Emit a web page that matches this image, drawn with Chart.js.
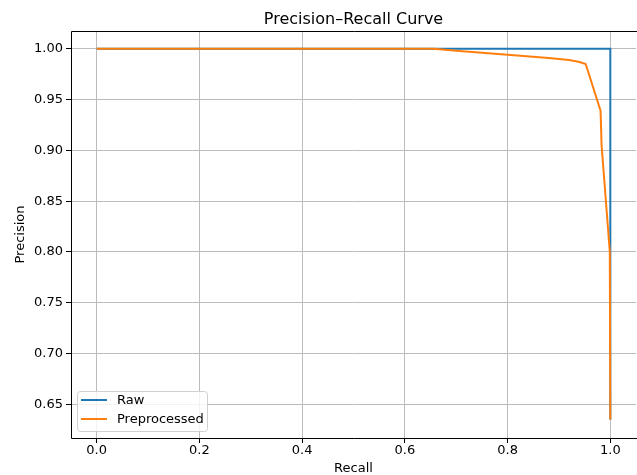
<!DOCTYPE html>
<html>
<head>
<meta charset="utf-8">
<script src="https://cdn.jsdelivr.net/npm/chart.js@4/dist/chart.umd.min.js"></script>
<style>
html,body{margin:0;padding:0;background:#fff;overflow:hidden;}
#wrap{width:637px;height:475px;}
</style>
</head>
<body>
<div id="wrap"><canvas id="c" width="637" height="475"></canvas></div>
<script>
// ---- data ----
const rawRecall = [0.0, 1.0, 1.0];
const rawPrecision = [1.0, 1.0, 0.635];
const prepRecall = [0.0, 0.656, 0.70, 0.80, 0.88, 0.92, 0.94, 0.952, 0.981, 0.983, 0.999, 1.0];
const prepPrecision = [1.0, 1.0, 0.998, 0.994, 0.991, 0.989, 0.987, 0.985, 0.939, 0.905, 0.80, 0.635];
const xTicks = [0.0, 0.2, 0.4, 0.6, 0.8, 1.0];
const yTicks = [0.65, 0.70, 0.75, 0.80, 0.85, 0.90, 0.95, 1.00];
const titleText = 'Precision–Recall Curve';
const xLabel = 'Recall';
const yLabel = 'Precision';
const seriesNames = ['Raw', 'Preprocessed'];
const seriesColors = ['#1f77b4', '#ff7f0e'];

const toPts = (xs, ys) => xs.map((x, i) => ({x: x, y: ys[i]}));
const FONT = '"DejaVu Sans", sans-serif';

const decor = {
  id: 'decor',
  afterDraw(chart) {
    const ctx = chart.ctx, a = chart.chartArea;
    ctx.save();
    // frame (left, top, bottom)
    ctx.strokeStyle = '#000';
    ctx.lineWidth = 1;
    ctx.beginPath();
    ctx.moveTo(a.left + 0.5, a.bottom + 0.5);
    ctx.lineTo(a.left + 0.5, a.top + 0.5);
    ctx.lineTo(a.right + 2, a.top + 0.5);
    ctx.moveTo(a.left + 0.5, a.bottom + 0.5);
    ctx.lineTo(a.right + 2, a.bottom + 0.5);
    ctx.stroke();
    // title
    ctx.fillStyle = '#000';
    ctx.font = '16px ' + FONT;
    ctx.textAlign = 'center';
    ctx.textBaseline = 'alphabetic';
    ctx.fillText(titleText, (a.left + 636) / 2, 24);
    // axis labels
    ctx.font = '13px ' + FONT;
    ctx.fillText(xLabel, (a.left + 636) / 2, 472);
    ctx.save();
    ctx.translate(24, (a.top + a.bottom) / 2);
    ctx.rotate(-Math.PI / 2);
    ctx.fillText(yLabel, 0, 0);
    ctx.restore();
    // legend
    const bx = 77, by = 391, bw = 130, bh = 40, r = 3;
    ctx.fillStyle = 'rgba(255,255,255,0.8)';
    ctx.strokeStyle = '#d0d0d0';
    ctx.lineWidth = 1;
    ctx.beginPath();
    ctx.roundRect(bx + 0.5, by + 0.5, bw, bh, r);
    ctx.fill();
    ctx.stroke();
    ctx.textAlign = 'left';
    ctx.textBaseline = 'middle';
    ctx.font = '13px ' + FONT;
    const rows = [400, 419];
    seriesNames.forEach((name, i) => {
      ctx.strokeStyle = seriesColors[i];
      ctx.lineWidth = 2;
      ctx.beginPath();
      ctx.moveTo(81, rows[i]);
      ctx.lineTo(107, rows[i]);
      ctx.stroke();
      ctx.fillStyle = '#000';
      ctx.fillText(name, 117, rows[i] + 1);
    });
    ctx.restore();
  }
};

new Chart(document.getElementById('c'), {
  type: 'scatter',
  data: {
    datasets: [
      {label: seriesNames[0], data: toPts(rawRecall, rawPrecision), showLine: true,
       borderColor: seriesColors[0], backgroundColor: seriesColors[0], borderWidth: 2,
       pointRadius: 0, pointHoverRadius: 0, tension: 0, order: 1},
      {label: seriesNames[1], data: toPts(prepRecall, prepPrecision), showLine: true,
       borderColor: seriesColors[1], backgroundColor: seriesColors[1], borderWidth: 2,
       pointRadius: 0, pointHoverRadius: 0, tension: 0, order: 0}
    ]
  },
  options: {
    responsive: false,
    animation: false,
    events: [],
    layout: {padding: {top: 31, right: 1, left: 0, bottom: 0}},
    plugins: {legend: {display: false}, title: {display: false}, tooltip: {enabled: false}},
    scales: {
      x: {
        type: 'linear', min: -0.05, max: 1.05,
        afterFit(s) { s.height = 37; },
        afterBuildTicks(s) { s.ticks = xTicks.map(v => ({value: v})); },
        border: {display: false},
        grid: {color: '#bcbcbc', lineWidth: 1, tickColor: '#000', tickLength: 5, drawTicks: true},
        ticks: {color: '#000', font: {family: FONT, size: 13}, padding: 0,
                maxRotation: 0, autoSkip: false, callback: v => Number(v).toFixed(1)}
      },
      y: {
        type: 'linear', min: 0.6168, max: 1.0175,
        afterFit(s) { s.width = 71; },
        afterBuildTicks(s) { s.ticks = yTicks.map(v => ({value: v})); },
        border: {display: false},
        grid: {color: '#bcbcbc', lineWidth: 1, tickColor: '#000', tickLength: 5, drawTicks: true},
        ticks: {color: '#000', font: {family: FONT, size: 13}, padding: 3,
                autoSkip: false, callback: v => Number(v).toFixed(2)}
      }
    }
  },
  plugins: [decor]
});
</script>
</body>
</html>
